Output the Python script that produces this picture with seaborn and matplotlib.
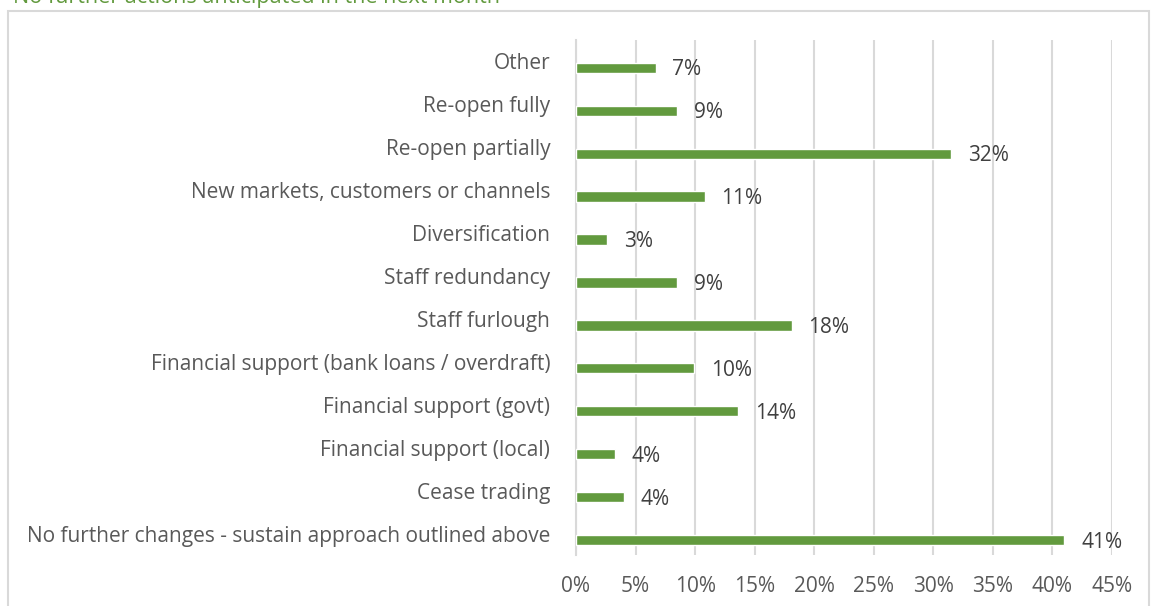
import numpy as np
import matplotlib.pyplot as plt
import seaborn as sns
from matplotlib.patches import Rectangle

# data (percent of respondents)
categories = [
    "Other",
    "Re-open fully",
    "Re-open partially",
    "New markets, customers or channels",
    "Diversification",
    "Staff redundancy",
    "Staff furlough",
    "Financial support (bank loans / overdraft)",
    "Financial support (govt)",
    "Financial support (local)",
    "Cease trading",
    "No further changes - sustain approach outlined above",
]
values = [6.7, 8.5, 31.5, 10.8, 2.6, 8.5, 18.1, 9.9, 13.6, 3.3, 4.0, 41.0]
labels = ["7%", "9%", "32%", "11%", "3%", "9%", "18%", "10%", "14%", "4%", "4%", "41%"]
xticks = [0, 5, 10, 15, 20, 25, 30, 35, 40, 45]

title = "No further actions anticipated in the next month"

green = "#629A3E"
grid = "#D9D9D9"
txt = "#595959"

sns.set_theme(style="white")
plt.rcParams["font.family"] = ["Open Sans", "DejaVu Sans"]

fig = plt.figure(figsize=(11.51, 6.06), dpi=100)
ax = fig.add_axes([576 / 1151, 1 - 555 / 606, (1112 - 576) / 1151, (555 - 40) / 606])

sns.barplot(x=values, y=categories, color=green, width=0.24, saturation=1,
            orient="h", ax=ax, zorder=3)

n = len(categories)
shift = 0.15
ax.set_ylim(n - 0.5 - shift, -0.5 - shift)
ax.set_xlim(0, 45)

# category labels sit slightly above the bars (Excel layout)
ax.set_yticks(np.arange(n) - shift)
ax.set_yticklabels(categories, fontsize=15, color=txt)
ax.set_yticks(np.arange(n + 1) - 0.5 - shift, minor=True)
ax.tick_params(axis="y", which="major", length=0, pad=18.5)
ax.tick_params(axis="y", which="minor", length=6, width=1.5, color=grid, direction="out")

ax.set_xticks(xticks)
ax.set_xticklabels([f"{t}%" for t in xticks], fontsize=15, color=txt)
ax.tick_params(axis="x", length=0, pad=15)

ax.xaxis.grid(True, color=grid, linewidth=1.5, zorder=0)
ax.set_axisbelow(True)
for s in ["top", "right", "bottom"]:
    ax.spines[s].set_visible(False)
ax.spines["left"].set_color(grid)
ax.spines["left"].set_linewidth(1.5)
ax.set_xlabel("")
ax.set_ylabel("")

for i, (v, lab) in enumerate(zip(values, labels)):
    ax.annotate(lab, (v, i), xytext=(12, -1.5), textcoords="offset points",
                va="center", ha="left", fontsize=15, color="#404040")

# chart frame and clipped title
fig.patches.append(Rectangle((8 / 1151, -0.01), (1149 - 8) / 1151, 1 - 10.5 / 606 + 0.01,
                             transform=fig.transFigure, fill=False,
                             edgecolor=grid, linewidth=1.5))
fig.text(13 / 1151, 1 - 3 / 606, title, fontsize=15.5, color=green, va="baseline")

fig.savefig("out.png", dpi=100)
